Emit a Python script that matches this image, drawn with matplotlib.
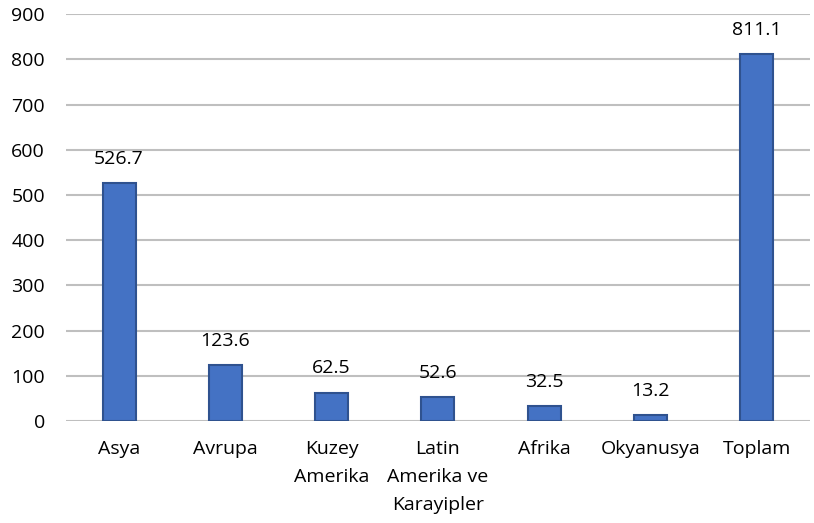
import matplotlib.pyplot as plt

categories = ['Asya', 'Avrupa', 'Kuzey\nAmerika', 'Latin\nAmerika ve\nKarayipler', 'Afrika', 'Okyanusya', 'Toplam']
values = [526.7, 123.6, 62.5, 52.6, 32.5, 13.2, 811.1]
y_ticks = [0, 100, 200, 300, 400, 500, 600, 700, 800, 900]

plt.rcParams['font.family'] = ['Open Sans', 'DejaVu Sans']

fig = plt.figure(figsize=(8.14, 5.23), dpi=100)
ax = fig.add_axes([0.081, 0.195, 0.914, 0.778])

x = range(len(categories))
bars = ax.bar(x, values, width=0.31, color='#4472C4', edgecolor='#2F528F', linewidth=1.5, zorder=3)

for rect, v in zip(bars, values):
    ax.annotate('{:.1f}'.format(v), (rect.get_x() + rect.get_width() / 2, v),
                xytext=(0, 11), textcoords='offset points', ha='center', va='bottom',
                fontsize=14, color='#000000')

ax.set_xlim(-0.5, len(categories) - 0.5)
ax.set_ylim(0, 900)
ax.set_yticks(y_ticks)
ax.set_xticks(list(x))
ax.set_xticklabels(categories, fontsize=14, linespacing=1.7)
ax.tick_params(axis='y', length=0, pad=15, labelsize=14)
ax.tick_params(axis='x', length=0, pad=14)
ax.grid(axis='y', color='#BFBFBF', linewidth=1.5, zorder=0)
for s in ax.spines.values():
    s.set_visible(False)

fig.savefig('out.png', dpi=100)
